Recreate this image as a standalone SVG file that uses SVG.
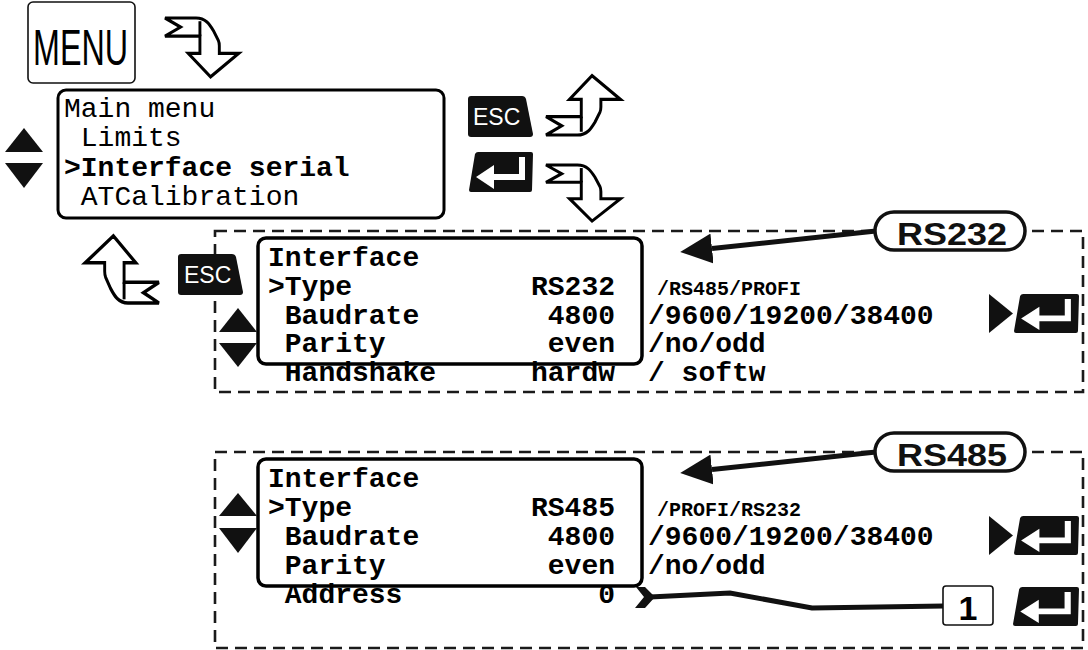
<svg xmlns="http://www.w3.org/2000/svg" width="1088" height="650" viewBox="0 0 1088 650">
<style>
.mono{font-family:"Liberation Mono","Courier New",monospace;font-size:28px;fill:#000;white-space:pre}
.b{font-weight:bold}
.small{font-size:20px}
.sans{font-family:"Liberation Sans",Arial,sans-serif}
.panel{fill:#fff;stroke:#000;stroke-width:3.5}
.dash{fill:none;stroke:#1a1a1a;stroke-width:2.6;stroke-dasharray:12 7}
.carrow{fill:#fff;stroke:#000;stroke-width:3;stroke-linejoin:miter}
.fold{fill:none;stroke:#000;stroke-width:3}
.key{fill:#111}
.keytxt{font-family:"Liberation Sans",Arial,sans-serif;font-size:23px;fill:#fff}
.tri{fill:#111}
.conn{fill:none;stroke:#111;stroke-width:5}
.pill{fill:#fff;stroke:#111;stroke-width:3.5}
.pilltxt{font-family:"Liberation Sans",Arial,sans-serif;font-weight:bold;font-size:32px;fill:#111}
</style>
<defs>
<g id="carrow">
<path class="carrow" d="M0,0 H32 C42,0 46,6 50,12 L55,21 Q56,23 56,26 V33 H76 L47,55 L24,33 H36 V17 H0 L16,8.5 Z"/>
<path class="fold" d="M36,17 V3"/>
</g>
<path id="esckey" class="key" d="M3,0 H54 Q57,0 58,3 L65,38 Q65,41 62,41 H3 Q0,41 0,38 V3 Q0,0 3,0 Z"/>
<symbol id="enter" viewBox="0 0 64 40" preserveAspectRatio="none">
<path fill="#111" d="M9,0 H62 Q64,0 64,2 L63,38 Q63,40 61,40 H2 Q0,40 0,38 L6,2 Q7,0 9,0 Z"/>
<path fill="#fff" d="M50,5 H56 V28 H25 V37 L7,25 L25,13 V22 H50 Z"/>
</symbol>
<marker id="head" viewBox="0 0 32 30" markerWidth="32" markerHeight="30" refX="0" refY="15" orient="auto" markerUnits="userSpaceOnUse">
<path d="M0,0 L32,15 L0,30 Z" fill="#111"/>
</marker>
</defs>

<g id="menu-key">
<rect x="28" y="2" width="107" height="81" rx="5" fill="#fff" stroke="#111" stroke-width="1.6"/>
<text class="sans" x="33" y="65" font-size="50" textLength="95" lengthAdjust="spacingAndGlyphs">MENU</text>
</g>
<g id="arrow-menu"><use href="#carrow" transform="translate(165,18) scale(0.97,1.07)"/></g>

<g id="main-menu">
<rect x="58" y="90" width="386" height="128" rx="8" fill="#fff" stroke="#000" stroke-width="3"/>
<text class="mono" x="64" y="117">Main menu</text>
<text class="mono" x="64" y="146"> Limits</text>
<text class="mono b" x="64" y="176">&gt;Interface serial</text>
<text class="mono" x="64" y="205"> ATCalibration</text>
</g>
<g id="updown-main">
<path class="tri" d="M5,152 L24,128 L43,152 Z"/>
<path class="tri" d="M5,163 L43,163 L24,188 Z"/>
</g>

<g id="esc-top">
<use href="#esckey" transform="translate(468,96)"/>
<text class="keytxt" x="473" y="125">ESC</text>
</g>
<g id="arrow-esc-top"><use href="#carrow" transform="translate(546,135) scale(0.98,-1.08)"/></g>
<g id="enter-top"><use href="#enter" x="469" y="152" width="64" height="40"/></g>
<g id="arrow-enter-top"><use href="#carrow" transform="translate(546,165) scale(0.98,1.02)"/></g>

<g id="rs232-panel">
<rect class="dash" x="215" y="231" width="868" height="161"/>
<rect class="panel" x="258" y="238" width="384" height="126" rx="8"/>
<text class="mono b" x="268" y="266">Interface</text>
<text class="mono b" x="268" y="295">&gt;Type</text>
<text class="mono b" x="268" y="324"> Baudrate</text>
<text class="mono b" x="268" y="352"> Parity</text>
<text class="mono b" x="268" y="381"> Handshake</text>
<text class="mono b" x="615" y="295" text-anchor="end">RS232</text>
<text class="mono b" x="615" y="324" text-anchor="end">4800</text>
<text class="mono b" x="615" y="352" text-anchor="end">even</text>
<text class="mono b" x="615" y="381" text-anchor="end">hardw</text>
<text class="mono b small" x="657" y="295">/RS485/PROFI</text>
<text class="mono b" x="648" y="324">/9600/19200/38400</text>
<text class="mono b" x="648" y="352">/no/odd</text>
<text class="mono b" x="648" y="381">/ softw</text>
<path class="tri" d="M219,332 L238,308 L257,332 Z"/>
<path class="tri" d="M219,343 L257,343 L238,367 Z"/>
<path class="tri" d="M989,294 L1013,313.5 L989,333 Z"/>
<use href="#enter" x="1014" y="294" width="65" height="39"/>
</g>

<g id="esc-bottom">
<use href="#esckey" transform="translate(178,254)"/>
<text class="keytxt" x="184" y="283">ESC</text>
</g>
<g id="arrow-esc-bottom"><use href="#carrow" transform="translate(159,303) scale(-0.97,-1.22)"/></g>

<g id="rs485-panel">
<rect class="dash" x="215" y="452" width="868" height="196"/>
<rect class="panel" x="258" y="459" width="384" height="127" rx="8"/>
<text class="mono b" x="268" y="487">Interface</text>
<text class="mono b" x="268" y="516">&gt;Type</text>
<text class="mono b" x="268" y="545"> Baudrate</text>
<text class="mono b" x="268" y="574"> Parity</text>
<text class="mono b" x="268" y="603"> Address</text>
<text class="mono b" x="615" y="516" text-anchor="end">RS485</text>
<text class="mono b" x="615" y="545" text-anchor="end">4800</text>
<text class="mono b" x="615" y="574" text-anchor="end">even</text>
<text class="mono b" x="615" y="603" text-anchor="end">0</text>
<text class="mono b small" x="657" y="516">/PROFI/RS232</text>
<text class="mono b" x="648" y="545">/9600/19200/38400</text>
<text class="mono b" x="648" y="574">/no/odd</text>
<path class="tri" d="M219,516 L238,493 L257,516 Z"/>
<path class="tri" d="M219,528 L257,528 L238,553 Z"/>
<path class="tri" d="M989,516 L1013,535.5 L989,555 Z"/>
<use href="#enter" x="1014" y="516" width="65" height="39"/>
<use href="#enter" x="1013" y="587" width="66" height="39"/>
</g>

<g id="connectors">
<line class="conn" x1="876" y1="231" x2="712" y2="248.5" marker-end="url(#head)"/>
<line class="conn" x1="876" y1="452" x2="712" y2="469.5" marker-end="url(#head)"/>
<polyline class="conn" stroke-width="4.5" points="650,597 730,593 812,608 944,606"/>
<path fill="#111" d="M636,587 L645,587 L655,597 L645,608 L635,608 L644,597 Z"/>
</g>

<g id="rs232-label">
<rect class="pill" x="875" y="212" width="150" height="38" rx="19"/>
<text class="pilltxt" x="897" y="245" textLength="110" lengthAdjust="spacingAndGlyphs">RS232</text>
</g>
<g id="rs485-label">
<rect class="pill" x="875" y="433" width="150" height="38" rx="19"/>
<text class="pilltxt" x="897" y="466" textLength="110" lengthAdjust="spacingAndGlyphs">RS485</text>
</g>
<g id="address-value">
<rect x="943" y="586" width="50" height="39" rx="3" fill="#fff" stroke="#111" stroke-width="1.6"/>
<text class="sans" x="968" y="620" font-size="34" font-weight="bold" text-anchor="middle">1</text>
</g>
</svg>
